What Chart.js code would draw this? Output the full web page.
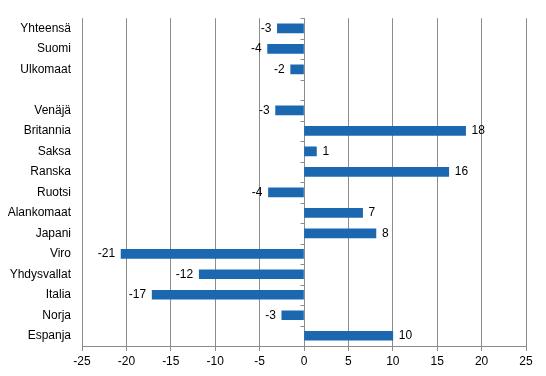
<!DOCTYPE html>
<html>
<head>
<meta charset="utf-8">
<script src="https://cdn.jsdelivr.net/npm/chart.js@4/dist/chart.umd.min.js"></script>
<style>
  html, body { margin: 0; padding: 0; background: #fff; }
  #wrap { width: 546px; height: 376px; }
</style>
</head>
<body>
<div id="wrap"><canvas id="chart"></canvas></div>
<script>
// Data
const countries = ["Yhteensä", "Suomi", "Ulkomaat", "", "Venäjä", "Britannia", "Saksa", "Ranska",
  "Ruotsi", "Alankomaat", "Japani", "Viro", "Yhdysvallat", "Italia", "Norja", "Espanja"];
const change = [-3.0, -4.1, -1.5, null, -3.2, 18.2, 1.4, 16.3,
  -4.0, 6.6, 8.1, -20.6, -11.8, -17.1, -2.5, 10.0];
const xTicks = [-25, -20, -15, -10, -5, 0, 5, 10, 15, 20, 25];

const gridGray = "#8c8c8c";
const font = { family: "'Liberation Sans', Arial, sans-serif", size: 12 };

// round half away from zero, like the spreadsheet labels
function fmt(v) {
  return String(Math.sign(v) * Math.round(Math.abs(v)));
}

// value labels at bar ends + small ticks on the zero line
const barLabels = {
  id: "barLabels",
  afterDatasetsDraw(chart) {
    const ctx = chart.ctx;
    const meta = chart.getDatasetMeta(0);
    const xs = chart.scales.x;
    const ys = chart.scales.y;
    const x0 = xs.getPixelForValue(0);

    ctx.save();
    ctx.strokeStyle = gridGray;
    ctx.lineWidth = 1;
    ctx.beginPath();
    for (let i = 0; i <= countries.length; i++) {
      const y = Math.round(ys.getPixelForValue(i - 0.5)) + 0.5;
      ctx.moveTo(Math.round(x0) + 0.5, y);
      ctx.lineTo(Math.round(x0) - 3.5, y);
    }
    ctx.stroke();

    ctx.fillStyle = "#000";
    ctx.font = font.size + "px " + font.family;
    ctx.textBaseline = "middle";
    meta.data.forEach((bar, i) => {
      const v = change[i];
      if (v === null) return;
      if (v < 0) {
        ctx.textAlign = "right";
        ctx.fillText(fmt(v), bar.x - 6, bar.y);
      } else {
        ctx.textAlign = "left";
        ctx.fillText(fmt(v), bar.x + 6, bar.y);
      }
    });
    ctx.restore();
  }
};

new Chart(document.getElementById("chart"), {
  type: "bar",
  data: {
    labels: countries,
    datasets: [{
      data: change,
      backgroundColor: "#1b68b1",
      barThickness: 9
    }]
  },
  options: {
    indexAxis: "y",
    responsive: true,
    maintainAspectRatio: false,
    animation: false,
    layout: { padding: { top: 12, right: 20, left: 0, bottom: 0 } },
    plugins: {
      legend: { display: false },
      tooltip: { enabled: false }
    },
    scales: {
      x: {
        min: -25,
        max: 25,
        afterBuildTicks: s => { s.ticks = xTicks.map(v => ({ value: v })); },
        afterFit: s => { s.height = 30; },
        grid: { color: gridGray, lineWidth: 1, drawTicks: true, tickLength: 5, tickColor: gridGray },
        border: { display: true, color: gridGray },
        ticks: { color: "#000", font: font, padding: 3, maxRotation: 0 }
      },
      y: {
        afterFit: s => { s.width = 82; },
        grid: { display: false, drawTicks: false },
        border: { display: false },
        ticks: { color: "#000", font: font, padding: 11, autoSkip: false }
      }
    }
  },
  plugins: [barLabels]
});
</script>
</body>
</html>
